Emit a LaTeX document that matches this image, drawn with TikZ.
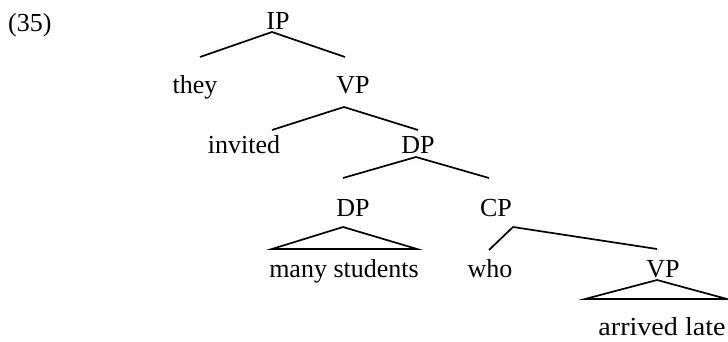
\documentclass[tikz,border=0pt]{standalone}
\usepackage{fontspec}
\setmainfont{Liberation Serif}
\begin{document}
\begin{tikzpicture}[x=1pt,y=-1pt,
  lbl/.style={inner sep=0pt,anchor=base,font=\fontsize{26}{30}\selectfont},
  br/.style={line width=1.7pt,line join=miter}]
\useasboundingbox (0,0) rectangle (728,341);
% labels
\node[lbl,anchor=base west] (ex) at (8,31) {(35)};
\node[lbl] (IP) at (278,29) {IP};
\node[lbl] (they) at (195,93) {they};
\node[lbl] (VP1) at (353,93) {VP};
\node[lbl] (invited) at (244,153) {invited};
\node[lbl] (DP1) at (418,153) {DP};
\node[lbl] (DP2) at (353,216) {DP};
\node[lbl] (CP) at (496,216) {CP};
\node[lbl] (many) at (344,277) {many students};
\node[lbl] (who) at (490,277) {who};
\node[lbl] (VP2) at (663,277) {VP};
\node[lbl] (arr) at (662,335) {\scalebox{1.08}[1]{arrived late}};
% branch points
\coordinate (IPa) at (272,32);
\coordinate (theyt) at (200,57);
\coordinate (VP1t) at (345,57);
\coordinate (VP1a) at (344,107);
\coordinate (invt) at (272,130);
\coordinate (DP1t) at (418,130);
\coordinate (DP1a) at (416,157);
\coordinate (DP2t) at (343,178);
\coordinate (CPt) at (489,178);
\coordinate (DP2a) at (343,227);
\coordinate (manyl) at (272,249);
\coordinate (manyr) at (417,249);
\coordinate (CPa) at (513,227);
\coordinate (whot) at (489,250);
\coordinate (VP2t) at (657,249);
\coordinate (VP2a) at (657,280);
\coordinate (arrl) at (585,299);
\coordinate (arrr) at (727,299);
% branches
\draw[br] (theyt) -- (IPa) -- (VP1t);
\draw[br] (invt) -- (VP1a) -- (DP1t);
\draw[br] (DP2t) -- (DP1a) -- (CPt);
\draw[br] (DP2a) -- (manyl) -- (manyr) -- cycle;
\draw[br] (whot) -- (CPa) -- (VP2t);
\draw[br] (VP2a) -- (arrl) -- (arrr) -- cycle;
\end{tikzpicture}
\end{document}
